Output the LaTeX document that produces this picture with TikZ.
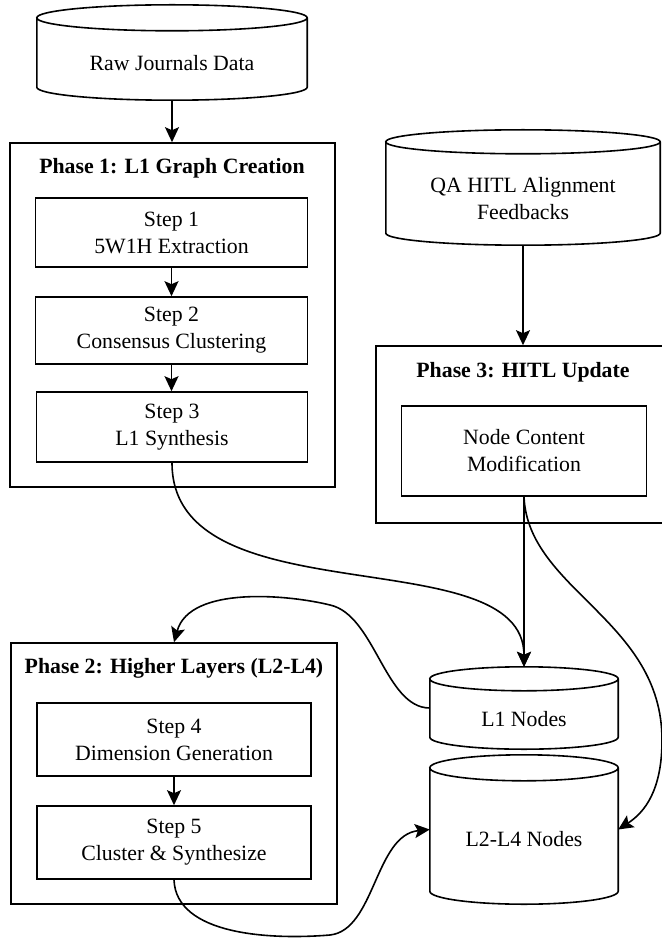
\documentclass[tikz,border=0pt]{standalone}
\usepackage{fontspec}
\setmainfont{Liberation Serif}
\usetikzlibrary{arrows.meta,calc}
\newcommand\drawcyl[2]{%
  \draw[ln] let \p1=(#1.north west), \p2=(#1.south east), \n1={(\x2-\x1)/2} in
    (\x1,\y1-#2pt) -- (\x1,\y2+#2pt)
    arc[start angle=180,end angle=360,x radius=\n1,y radius=#2pt]
    -- (\x2,\y1-#2pt)
    ({(\x1+\x2)/2},\y1-#2pt) ellipse[x radius=\n1,y radius=#2pt];}
\tikzset{
  ln/.style={line width=1.6pt},
  txt/.style={align=center, inner sep=0pt, font=\fontsize{21.8}{27}\selectfont},
  ttl/.style={align=center, inner sep=0pt, font=\fontsize{21.8}{27}\selectfont\bfseries},
  stepbox/.style={draw, ln, rectangle, inner sep=0pt, align=center, font=\fontsize{21.8}{27}\selectfont},
  area/.style={draw, ln, rectangle, inner sep=0pt},
  cylbox/.style={rectangle, inner sep=0pt},
  arr/.style={ln, -{Stealth[length=15pt,width=14pt,inset=3pt]}},
}
\begin{document}
\begin{tikzpicture}[x=1pt,y=-1pt]
\useasboundingbox (0,0) rectangle (661,941);

% cylinders
\node[cylbox, minimum width=270pt, minimum height=95pt] (raw) at (172,52.5) {};
\drawcyl{raw}{13}
\node[txt] (rawt) at (172,63) {Raw Journals Data};

\node[cylbox, minimum width=274pt, minimum height=115pt] (qa) at (523,187.5) {};
\drawcyl{qa}{12}
\node[txt] (qat) at (523,198.5) {QA HITL Alignment\\Feedbacks};

\node[cylbox, minimum width=188pt, minimum height=82pt] (l1) at (524,708) {};
\drawcyl{l1}{12}
\node[txt] (l1t) at (524,719) {L1 Nodes};

\node[cylbox, minimum width=188pt, minimum height=149pt] (l24) at (524,829.5) {};
\drawcyl{l24}{13}
\node[txt] (l24t) at (524,839) {L2-L4 Nodes};

% phase 1
\node[area, minimum width=325pt, minimum height=344pt] (ph1) at (172.5,315) {};
\node[ttl] (ph1t) at (172,168) {Phase 1: L1 Graph Creation};
\node[stepbox, minimum width=272pt, minimum height=69pt] (s1) at (171.5,232.5) {Step 1\\5W1H Extraction};
\node[stepbox, minimum width=272pt, minimum height=67pt] (s2) at (171.5,330.5) {Step 2\\Consensus Clustering};
\node[stepbox, minimum width=271pt, minimum height=70pt] (s3) at (172,427) {Step 3\\L1 Synthesis};

% phase 3
\node[area, minimum width=294pt, minimum height=177pt] (ph3) at (523,434.5) {};
\node[ttl] (ph3t) at (523,372) {Phase 3: HITL Update};
\node[stepbox, minimum width=245pt, minimum height=90pt] (ncm) at (524,451) {Node Content\\Modification};

% phase 2
\node[area, minimum width=326pt, minimum height=261pt] (ph2) at (174,773.5) {};
\node[ttl] (ph2t) at (174,668) {Phase 2: Higher Layers (L2-L4)};
\node[stepbox, minimum width=274pt, minimum height=73pt] (s4) at (174,739.5) {Step 4\\Dimension Generation};
\node[stepbox, minimum width=274pt, minimum height=73pt] (s5) at (174,842.5) {Step 5\\Cluster \& Synthesize};

% connectors
\draw[arr] (raw.south) -- (raw.south |- ph1.north);
\draw[arr] (s1.south) -- (s1.south |- s2.north);
\draw[arr] (s2.south) -- (s2.south |- s3.north);
\draw[arr] (s4.south) -- (s5.north);
\draw[arr] (qa.south) -- (qa.south |- ph3.north);
\draw[arr] (ncm.south) -- (l1.north);
\draw[arr] (s3.south) .. controls (172,620) and (524,537) .. (l1.north);
\draw[arr] (ncm.south) .. controls (528,590) and (662,620) .. (662,740)
  .. controls (662,790) and (645,812) .. (l24.east);
\draw[arr] (l1.west) .. controls (385,708) and (375,615) .. (330,605)
  .. controls (290,595) and (190,585) .. (ph2.north);
\draw[arr] (s5.south) .. controls (176,935) and (270,940) .. (330,935)
  .. controls (375,930) and (375,835) .. (l24.west);
\end{tikzpicture}
\end{document}
